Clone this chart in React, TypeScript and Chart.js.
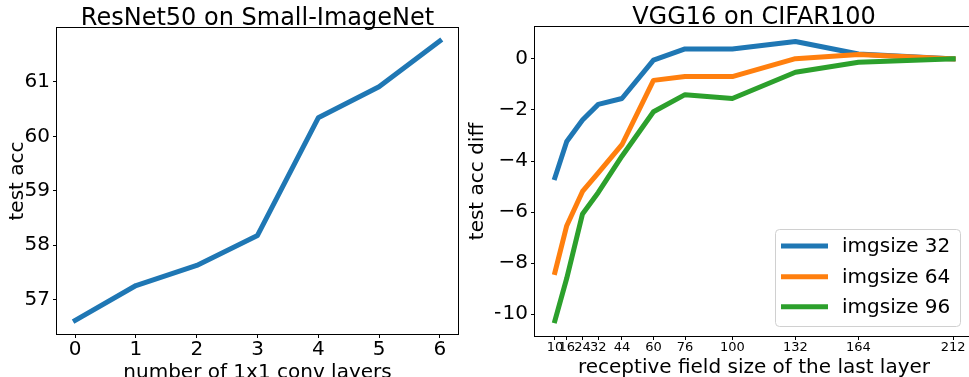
import React, { useEffect, useRef } from "react";
import { Chart, registerables } from "chart.js";

Chart.register(...registerables);

// ---------- data ----------
const layers = [0, 1, 2, 3, 4, 5, 6];
const resnetAcc = [56.62, 57.26, 57.63, 58.18, 60.34, 60.91, 61.75];
const leftYTicks = [57, 58, 59, 60, 61];

const fieldSizes = [10, 16, 24, 32, 44, 60, 76, 100, 132, 164, 212];
const img32 = [-4.65, -3.23, -2.39, -1.78, -1.55, -0.05, 0.39, 0.39, 0.68, 0.19, 0.0];
const img64 = [-8.36, -6.53, -5.19, -4.46, -3.36, -0.84, -0.69, -0.69, 0.01, 0.17, 0.0];
const img96 = [-10.25, -8.59, -6.07, -5.23, -3.81, -2.07, -1.4, -1.55, -0.52, -0.13, 0.0];
const rightYTicks = [-10, -8, -6, -4, -2, 0];
const seriesLabels = ["imgsize 32", "imgsize 64", "imgsize 96"];

const FONT = "'DejaVu Sans', 'Liberation Sans', sans-serif";
const BLUE = "#1f77b4";
const ORANGE = "#ff7f0e";
const GREEN = "#2ca02c";

const fmt = (v: number) => (v < 0 ? "\u2212" + Math.abs(v) : String(v));

const decorPlugin = {
  id: "decor",
  afterDraw(chart: any, _args: any, opts: any) {
    const { ctx, chartArea } = chart;
    const cx = (chartArea.left + chartArea.right) / 2;
    const cy = (chartArea.top + chartArea.bottom) / 2;
    ctx.save();
    // frame
    ctx.strokeStyle = "#000";
    ctx.lineWidth = 1;
    ctx.strokeRect(
      Math.round(chartArea.left) - 0.5,
      Math.round(chartArea.top) - 0.5,
      Math.round(chartArea.right - chartArea.left) + 1,
      Math.round(chartArea.bottom - chartArea.top) + 1
    );
    ctx.fillStyle = "#000";
    ctx.textAlign = "center";
    ctx.textBaseline = "alphabetic";
    ctx.font = `24px ${FONT}`;
    ctx.fillText(opts.title, cx, opts.titleY);
    ctx.font = `20px ${FONT}`;
    ctx.fillText(opts.xLabel, cx, opts.xLabelY);
    ctx.save();
    ctx.translate(opts.yLabelX, cy);
    ctx.rotate(-Math.PI / 2);
    ctx.fillText(opts.yLabel, 0, 0);
    ctx.restore();

    if (opts.legend) {
      const L = opts.legend;
      ctx.fillStyle = "rgba(255,255,255,0.8)";
      ctx.strokeStyle = "#d0d0d0";
      ctx.lineWidth = 1;
      ctx.beginPath();
      (ctx as any).roundRect(L.x + 0.5, L.y + 0.5, L.w, L.h, 4);
      ctx.fill();
      ctx.stroke();
      chart.data.datasets.forEach((ds: any, i: number) => {
        const ry = L.rows[i];
        ctx.strokeStyle = ds.borderColor;
        ctx.lineWidth = 5;
        ctx.lineCap = "butt";
        ctx.beginPath();
        ctx.moveTo(L.sx0, ry);
        ctx.lineTo(L.sx1, ry);
        ctx.stroke();
        ctx.fillStyle = "#000";
        ctx.font = `20px ${FONT}`;
        ctx.textAlign = "left";
        ctx.textBaseline = "middle";
        ctx.fillText(ds.label, L.tx, ry + 1);
      });
    }
    ctx.restore();
  },
};

function fixedAxis(size: number, horizontal: boolean) {
  return (scale: any) => {
    if (horizontal) scale.height = size;
    else scale.width = size;
    scale.paddingLeft = 0;
    scale.paddingRight = 0;
    scale.paddingTop = 0;
    scale.paddingBottom = 0;
  };
}

const tickGrid = {
  display: true,
  drawOnChartArea: false,
  drawTicks: true,
  tickLength: 4,
  color: "#000",
  lineWidth: 1,
};

export default function App() {
  const leftRef = useRef<HTMLCanvasElement>(null);
  const rightRef = useRef<HTMLCanvasElement>(null);

  useEffect(() => {
    Chart.defaults.font.family = FONT;
    Chart.defaults.color = "#000";

    const left = new Chart(leftRef.current!, {
      type: "line",
      data: {
        datasets: [
          {
            label: "ResNet50",
            data: layers.map((x, i) => ({ x, y: resnetAcc[i] })),
            borderColor: BLUE,
            borderWidth: 5,
            pointRadius: 0,
            tension: 0,
            borderCapStyle: "square",
            borderJoinStyle: "round",
          } as any,
        ],
      },
      options: {
        responsive: false,
        animation: false,
        devicePixelRatio: 1,
        layout: { padding: { left: 17, right: 511, top: 28, bottom: 13 } },
        plugins: {
          legend: { display: false },
          tooltip: { enabled: false },
          decor: {
            title: "ResNet50 on Small-ImageNet",
            titleY: 25,
            xLabel: "number of 1x1 conv layers",
            xLabelY: 378,
            yLabel: "test acc",
            yLabelX: 23,
          },
        } as any,
        scales: {
          x: {
            type: "linear",
            min: -0.3,
            max: 6.3,
            afterFit: fixedAxis(30, true),
            afterBuildTicks: (s: any) => {
              s.ticks = layers.map((v) => ({ value: v }));
            },
            grid: tickGrid,
            border: { display: false },
            ticks: {
              autoSkip: false,
              maxRotation: 0,
              minRotation: 0,
              padding: 0,
              font: { size: 20, family: FONT },
              color: "#000",
            },
          },
          y: {
            type: "linear",
            min: 56.37,
            max: 61.99,
            afterFit: fixedAxis(40, false),
            afterBuildTicks: (s: any) => {
              s.ticks = leftYTicks.map((v) => ({ value: v }));
            },
            grid: tickGrid,
            border: { display: false },
            ticks: {
              padding: 3,
              font: { size: 20, family: FONT },
              color: "#000",
              callback: (v: any) => fmt(Number(v)),
            },
          },
        },
      },
      plugins: [decorPlugin],
    });

    const mk = (label: string, ys: number[], color: string, order: number) =>
      ({
        label,
        data: fieldSizes.map((x, i) => ({ x, y: ys[i] })),
        borderColor: color,
        backgroundColor: color,
        borderWidth: 5,
        pointRadius: 0,
        tension: 0,
        borderCapStyle: "square",
        borderJoinStyle: "round",
        order,
      } as any);

    const right = new Chart(rightRef.current!, {
      type: "line",
      data: {
        datasets: [
          mk(seriesLabels[0], img32, BLUE, 2),
          mk(seriesLabels[1], img64, ORANGE, 1),
          mk(seriesLabels[2], img96, GREEN, 0),
        ],
      },
      options: {
        responsive: false,
        animation: false,
        devicePixelRatio: 1,
        layout: { padding: { left: 495, right: 17, top: 27, bottom: 11 } },
        plugins: {
          legend: { display: false },
          tooltip: { enabled: false },
          decor: {
            title: "VGG16 on CIFAR100",
            titleY: 24,
            xLabel: "receptive field size of the last layer",
            xLabelY: 373,
            yLabel: "test acc diff",
            yLabelX: 483,
            legend: {
              x: 775,
              y: 229,
              w: 185,
              h: 97,
              rows: [246, 276.7, 306.7],
              sx0: 781,
              sx1: 828,
              tx: 842,
            },
          },
        } as any,
        scales: {
          x: {
            type: "linear",
            min: -0.1,
            max: 222.1,
            afterFit: fixedAxis(30, true),
            afterBuildTicks: (s: any) => {
              s.ticks = fieldSizes.map((v) => ({ value: v }));
            },
            grid: tickGrid,
            border: { display: false },
            ticks: {
              autoSkip: false,
              maxRotation: 0,
              minRotation: 0,
              padding: 0,
              font: { size: 13, family: FONT },
              color: "#000",
            },
          },
          y: {
            type: "linear",
            min: -10.85,
            max: 1.25,
            afterFit: fixedAxis(40, false),
            afterBuildTicks: (s: any) => {
              s.ticks = rightYTicks.map((v) => ({ value: v }));
            },
            grid: tickGrid,
            border: { display: false },
            ticks: {
              padding: 3,
              font: { size: 20, family: FONT },
              color: "#000",
              callback: (v: any) => fmt(Number(v)),
            },
          },
        },
      },
      plugins: [decorPlugin],
    });

    return () => {
      left.destroy();
      right.destroy();
    };
  }, []);

  return (
    <div
      style={{
        position: "absolute",
        left: 0,
        top: 0,
        width: 969,
        height: 377,
        overflow: "hidden",
        background: "#fff",
      }}
    >
      <canvas
        ref={leftRef}
        width={969}
        height={377}
        style={{ position: "absolute", left: 0, top: 0, display: "block" }}
      />
      <canvas
        ref={rightRef}
        width={990}
        height={377}
        style={{ position: "absolute", left: 0, top: 0, display: "block" }}
      />
    </div>
  );
}
